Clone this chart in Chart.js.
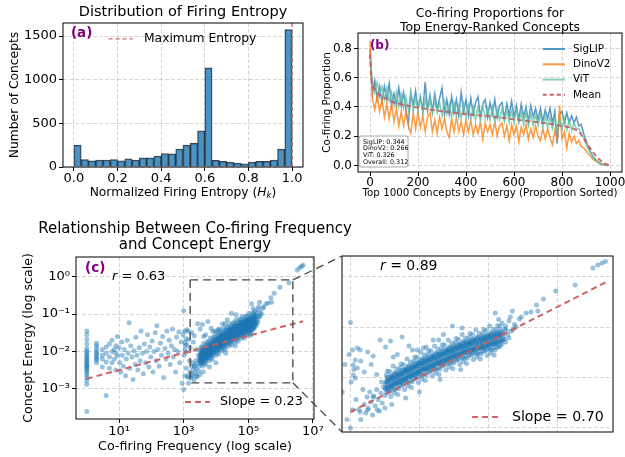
<!DOCTYPE html>
<html>
<head>
<meta charset="utf-8">
<title>Firing entropy and co-firing</title>
<script src="https://cdn.jsdelivr.net/npm/chart.js@4.4.1/dist/chart.umd.min.js"></script>
<style>
  html, body { margin: 0; padding: 0; background: #fff; }
  body { position: relative; width: 625px; height: 457px; overflow: hidden; }
  .panel { position: absolute; }
</style>
</head>
<body>
<div class="panel" style="left:0;top:0;width:330px;height:205px"><canvas id="entropyChart"></canvas></div>
<div class="panel" style="left:300px;top:0;width:345px;height:205px"><canvas id="cofireChart"></canvas></div>
<div class="panel" style="left:330px;top:245px;width:295px;height:200px"><canvas id="zoomChart"></canvas></div>
<div class="panel" style="left:0;top:205px;width:360px;height:252px"><canvas id="energyChart"></canvas></div>
<script>
// ---------- data ----------
// (a) normalized firing entropy, 30 equal bins on [0, 1]
const entropyBinCount = 30;
const entropyCounts = [250, 85, 70, 80, 80, 85, 70, 95, 80, 105, 105, 125, 155, 150, 205,
  250, 270, 415, 1135, 75, 65, 55, 45, 35, 55, 65, 65, 80, 205, 1575];
const entropyXTicks = [0, 0.2, 0.4, 0.6, 0.8, 1.0];
const entropyYTicks = [0, 500, 1000, 1500];
const maxEntropy = 1.0;

// (b) co-firing proportion for the top 1000 concepts, read every 10 ranks
const conceptRanks = Array.from({ length: 100 }, (_, i) => i * 10);
const siglipProp = [0.80, 0.49, 0.58, 0.45, 0.54, 0.43, 0.54, 0.45, 0.56, 0.41,
  0.49, 0.41, 0.53, 0.41, 0.50, 0.38, 0.28, 0.50, 0.41, 0.51,
  0.38, 0.47, 0.37, 0.57, 0.38, 0.48, 0.37, 0.49, 0.38, 0.46,
  0.53, 0.35, 0.45, 0.35, 0.47, 0.36, 0.45, 0.34, 0.50, 0.37,
  0.45, 0.34, 0.46, 0.35, 0.43, 0.47, 0.33, 0.42, 0.45, 0.33,
  0.43, 0.35, 0.45, 0.33, 0.41, 0.43, 0.32, 0.42, 0.34, 0.44,
  0.33, 0.41, 0.31, 0.42, 0.33, 0.40, 0.30, 0.41, 0.33, 0.39,
  0.31, 0.39, 0.30, 0.38, 0.32, 0.39, 0.29, 0.37, 0.15, 0.35,
  0.37, 0.29, 0.36, 0.29, 0.34, 0.29, 0.33, 0.27, 0.28, 0.22,
  0.17, 0.12, 0.09, 0.06, 0.04, 0.025, 0.015, 0.008, 0.003, 0.0];
const dinoProp = [0.85, 0.46, 0.38, 0.48, 0.37, 0.45, 0.33, 0.42, 0.32, 0.42,
  0.30, 0.39, 0.27, 0.37, 0.27, 0.37, 0.27, 0.22, 0.36, 0.25,
  0.36, 0.26, 0.34, 0.23, 0.33, 0.36, 0.23, 0.31, 0.22, 0.33,
  0.25, 0.32, 0.23, 0.19, 0.32, 0.23, 0.33, 0.23, 0.30, 0.21,
  0.31, 0.23, 0.31, 0.21, 0.28, 0.22, 0.30, 0.18, 0.29, 0.23,
  0.28, 0.21, 0.30, 0.20, 0.27, 0.29, 0.20, 0.27, 0.17, 0.28,
  0.21, 0.27, 0.16, 0.26, 0.21, 0.28, 0.18, 0.25, 0.19, 0.27,
  0.20, 0.17, 0.25, 0.18, 0.25, 0.19, 0.14, 0.24, 0.17, 0.41,
  0.18, 0.23, 0.12, 0.22, 0.16, 0.20, 0.15, 0.17, 0.13, 0.12,
  0.10, 0.08, 0.06, 0.04, 0.03, 0.02, 0.01, 0.005, 0.002, 0.0];
const vitProp = [0.72, 0.58, 0.50, 0.57, 0.47, 0.54, 0.45, 0.53, 0.44, 0.50,
  0.41, 0.50, 0.40, 0.49, 0.39, 0.47, 0.38, 0.50, 0.37, 0.46,
  0.38, 0.47, 0.36, 0.45, 0.37, 0.46, 0.35, 0.44, 0.36, 0.43,
  0.34, 0.44, 0.35, 0.42, 0.33, 0.43, 0.34, 0.41, 0.32, 0.42,
  0.33, 0.41, 0.32, 0.40, 0.31, 0.40, 0.31, 0.41, 0.32, 0.39,
  0.31, 0.40, 0.30, 0.38, 0.31, 0.39, 0.30, 0.38, 0.29, 0.37,
  0.29, 0.38, 0.29, 0.36, 0.28, 0.37, 0.27, 0.35, 0.27, 0.35,
  0.27, 0.34, 0.26, 0.34, 0.26, 0.33, 0.25, 0.33, 0.24, 0.32,
  0.25, 0.32, 0.24, 0.31, 0.24, 0.29, 0.25, 0.25, 0.22, 0.19,
  0.15, 0.11, 0.08, 0.05, 0.035, 0.02, 0.01, 0.005, 0.002, 0.0];
const meanRanks = [0, 5, 10, 20, 35, 50, 75, 100, 150, 200, 300, 400, 500, 600, 700, 800, 850, 875, 900, 925, 950, 975, 999];
const meanProp = [0.76, 0.60, 0.55, 0.52, 0.49, 0.47, 0.45, 0.43, 0.41, 0.395, 0.37, 0.35, 0.335, 0.315, 0.295, 0.27, 0.25, 0.22, 0.16, 0.10, 0.05, 0.015, 0.0];
const modelMeans = ['SigLIP: 0.344', 'DinoV2: 0.266', 'ViT: 0.326', 'Overall: 0.312'];
const rankTicks = [0, 200, 400, 600, 800, 1000];
const propTicks = [0, 0.2, 0.4, 0.6, 0.8];

// (c) co-firing frequency vs concept energy, both given as log10
const cofireEnergyLog = [
  // concepts that fire alone or with very few others
  [0, -1.45], [0, -1.55], [0, -1.68], [0, -1.80], [0, -1.92], [0, -1.98], [0, -2.03], [0, -2.08],
  [0, -2.12], [0, -2.17], [0, -2.21], [0, -2.25], [0, -2.29], [0, -2.33], [0, -2.37], [0, -2.40],
  [0, -2.44], [0, -2.48], [0, -2.52], [0, -2.57], [0, -2.63], [0, -2.70], [0, -2.78], [0, -2.88], [0, -3.61],
  [0.30, -1.78], [0.30, -1.85], [0.30, -1.92], [0.30, -1.99], [0.30, -2.04], [0.30, -2.09], [0.30, -2.14],
  [0.30, -2.19], [0.30, -2.23], [0.30, -2.30],
  [0.48, -1.95], [0.48, -2.10], [0.48, -2.20], [0.48, -2.42],
  [0.60, -2.05], [0.60, -2.28], [0.60, -3.18], [0.60, -1.88],
  [0.70, -2.15], [0.70, -1.80], [0.70, -2.45], [0.78, -2.00], [0.78, -2.30], [0.78, -1.70],
  [0.85, -2.20], [0.85, -1.95], [0.90, -2.50], [0.90, -2.05], [0.90, -1.85], [0.95, -2.12], [0.95, -1.60],
  [1.00, -1.90], [1.02, -2.30], [1.05, -2.55], [1.08, -1.75], [1.10, -2.10], [1.13, -2.40], [1.16, -1.95],
  [1.20, -2.65], [1.22, -2.20], [1.25, -1.70], [1.28, -2.05], [1.31, -1.23], [1.33, -2.45], [1.36, -1.85],
  [1.40, -2.15], [1.43, -2.75], [1.46, -1.98], [1.50, -2.35], [1.52, -1.62], [1.55, -2.10], [1.58, -2.50],
  [1.62, -1.90], [1.65, -2.25], [1.68, -1.45], [1.72, -2.05], [1.75, -2.60], [1.78, -1.80], [1.82, -2.30],
  [1.85, -2.00], [1.88, -1.55], [1.92, -2.42], [1.95, -1.88], [1.98, -2.15], [2.02, -1.72], [2.05, -2.55],
  [2.08, -2.00], [2.12, -1.50], [2.15, -2.25], [2.17, -1.31], [2.20, -1.95], [2.24, -2.40], [2.28, -1.78],
  [2.31, -2.10], [2.35, -1.60], [2.38, -2.70], [2.42, -1.92], [2.45, -2.20], [2.48, -1.45], [2.52, -2.05],
  [2.55, -1.70], [2.58, -2.35], [2.62, -1.85], [2.65, -1.40], [2.68, -2.15], [2.72, -1.95], [2.75, -2.55],
  [2.78, -1.62], [2.82, -2.00], [2.85, -1.48], [2.88, -2.30], [2.92, -1.75], [2.95, -2.85], [2.98, -1.55],
  [3.00, -0.91], [3.01, -2.10], [3.00, -3.02], [3.05, -1.85], [3.08, -2.45], [3.10, -1.42], [3.12, -2.65],
  [3.15, -1.68], [3.18, -2.25],
  // sparse points above and below the main band
  [3.03, -1.46], [3.07, -1.66], [3.04, -1.76], [3.10, -1.82], [3.04, -1.96], [3.07, -2.02], [3.14, -1.46],
  [3.25, -1.50], [3.33, -1.58], [3.43, -1.26], [3.58, -1.28], [3.51, -1.40], [3.62, -1.60], [3.75, -1.20],
  [3.90, -1.46], [3.97, -1.46], [4.06, -1.42], [4.10, -1.40], [4.20, -1.26], [4.28, -1.26], [4.48, -0.98],
  [3.30, -1.75], [3.20, -1.90], [3.38, -1.95], [3.68, -1.55], [3.85, -1.38], [4.35, -1.15], [4.62, -1.02],
  [3.03, -2.66], [3.14, -2.70], [3.25, -2.66], [3.39, -2.66], [3.33, -2.40], [3.60, -2.55], [3.80, -2.42],
  [4.00, -2.30], [4.30, -2.05], [4.60, -1.85], [3.15, -2.85], [3.50, -2.62],
  // lower end of the dense band
  [3.20, -2.55], [3.22, -2.72], [3.24, -2.40], [3.26, -2.62], [3.28, -2.30], [3.30, -2.50], [3.32, -2.76],
  [3.34, -2.38], [3.36, -2.58], [3.38, -2.25], [3.40, -2.45], [3.42, -2.68], [3.44, -2.32], [3.46, -2.52],
  [3.48, -2.20], [3.45, -2.10],
  // dense band
  [3.50, -2.37], [3.53, -2.25], [3.51, -2.15], [3.54, -2.06], [3.52, -1.96], [3.535, -1.88],
  [3.55, -2.30], [3.58, -2.18], [3.56, -2.08], [3.59, -1.99], [3.57, -1.89], [3.585, -2.39],
  [3.60, -2.22], [3.63, -2.11], [3.61, -2.01], [3.64, -1.92], [3.62, -1.78], [3.635, -2.32],
  [3.65, -2.25], [3.68, -2.13], [3.66, -2.03], [3.69, -1.94], [3.67, -1.84], [3.685, -2.35],
  [3.70, -2.23], [3.73, -2.11], [3.71, -2.01], [3.74, -1.92], [3.72, -1.82], [3.735, -1.74],
  [3.75, -2.16], [3.78, -2.04], [3.76, -1.94], [3.79, -1.85], [3.77, -1.75], [3.785, -2.25],
  [3.80, -2.08], [3.83, -1.97], [3.81, -1.87], [3.84, -1.78], [3.82, -1.64], [3.835, -2.18],
  [3.85, -2.11], [3.88, -1.99], [3.86, -1.89], [3.89, -1.80], [3.87, -1.70], [3.885, -2.21],
  [3.90, -2.09], [3.93, -1.97], [3.91, -1.87], [3.94, -1.78], [3.92, -1.68], [3.935, -1.60],
  [3.95, -2.02], [3.98, -1.90], [3.96, -1.80], [3.99, -1.71], [3.97, -1.61], [3.985, -2.11],
  [4.00, -1.94], [4.03, -1.83], [4.01, -1.73], [4.04, -1.64], [4.02, -1.50], [4.035, -2.04],
  [4.05, -1.97], [4.08, -1.85], [4.06, -1.75], [4.09, -1.66], [4.07, -1.56], [4.085, -2.07],
  [4.10, -1.96], [4.13, -1.84], [4.11, -1.74], [4.14, -1.65], [4.12, -1.55], [4.135, -1.47],
  [4.15, -1.89], [4.18, -1.77], [4.16, -1.67], [4.19, -1.58], [4.17, -1.48], [4.185, -1.98],
  [4.20, -1.82], [4.23, -1.71], [4.21, -1.61], [4.24, -1.52], [4.22, -1.38], [4.235, -1.92],
  [4.25, -1.85], [4.28, -1.73], [4.26, -1.63], [4.29, -1.54], [4.27, -1.44], [4.285, -1.95],
  [4.30, -1.84], [4.33, -1.72], [4.31, -1.62], [4.34, -1.53], [4.32, -1.43], [4.335, -1.35],
  [4.35, -1.77], [4.38, -1.65], [4.36, -1.55], [4.39, -1.46], [4.37, -1.36], [4.385, -1.86],
  [4.40, -1.70], [4.43, -1.59], [4.41, -1.49], [4.44, -1.40], [4.42, -1.26], [4.435, -1.80],
  [4.45, -1.73], [4.48, -1.61], [4.46, -1.51], [4.49, -1.42], [4.47, -1.32], [4.485, -1.83],
  [4.50, -1.72], [4.53, -1.60], [4.51, -1.50], [4.54, -1.41], [4.52, -1.31], [4.535, -1.23],
  [4.55, -1.66], [4.58, -1.54], [4.56, -1.44], [4.59, -1.35], [4.57, -1.25], [4.585, -1.75],
  [4.60, -1.59], [4.63, -1.48], [4.61, -1.38], [4.64, -1.29], [4.62, -1.15], [4.635, -1.69],
  [4.65, -1.63], [4.68, -1.51], [4.66, -1.41], [4.69, -1.32], [4.67, -1.22], [4.685, -1.73],
  [4.70, -1.62], [4.73, -1.50], [4.71, -1.40], [4.74, -1.31], [4.72, -1.21], [4.735, -1.13],
  [4.75, -1.56], [4.78, -1.44], [4.76, -1.34], [4.79, -1.25], [4.77, -1.15], [4.785, -1.65],
  [4.80, -1.50], [4.83, -1.39], [4.81, -1.29], [4.84, -1.20], [4.82, -1.06], [4.835, -1.60],
  [4.85, -1.54], [4.88, -1.42], [4.86, -1.32], [4.89, -1.23], [4.87, -1.13], [4.885, -1.64],
  [4.90, -1.54], [4.93, -1.42], [4.91, -1.32], [4.94, -1.23], [4.92, -1.13], [4.935, -1.05],
  [4.95, -1.48], [4.98, -1.36], [4.96, -1.26], [4.99, -1.17], [4.97, -1.07], [4.985, -1.57],
  [5.00, -1.42], [5.03, -1.31], [5.01, -1.21], [5.04, -1.12], [5.02, -0.98], [5.035, -1.52],
  [5.05, -1.46], [5.08, -1.34], [5.06, -1.24], [5.09, -1.15], [5.07, -1.05], [5.085, -1.56],
  [5.10, -1.46], [5.13, -1.34], [5.11, -1.24], [5.14, -1.15], [5.12, -1.05], [5.135, -0.97],
  [5.15, -1.40], [5.18, -1.28], [5.16, -1.18], [5.19, -1.09], [5.17, -0.99],
  [5.20, -1.34], [5.23, -1.23], [5.21, -1.13], [5.24, -1.04],
  [5.25, -1.30], [5.28, -1.15], [5.26, -1.06], [5.30, -1.22], [5.33, -1.08],
  // second pass through the dense band
  [3.525, -2.31], [3.545, -2.20], [3.515, -2.10], [3.535, -2.01], [3.505, -2.24],
  [3.575, -2.28], [3.595, -2.17], [3.565, -2.07], [3.585, -1.98], [3.555, -2.21],
  [3.625, -2.24], [3.645, -2.13], [3.615, -2.03], [3.635, -1.94], [3.605, -2.17],
  [3.675, -2.21], [3.695, -2.10], [3.665, -2.00], [3.685, -1.91], [3.655, -2.14],
  [3.725, -2.17], [3.745, -2.06], [3.715, -1.96], [3.735, -1.87], [3.705, -2.10],
  [3.775, -2.14], [3.795, -2.03], [3.765, -1.93], [3.785, -1.84], [3.755, -2.07],
  [3.825, -2.10], [3.845, -1.99], [3.815, -1.89], [3.835, -1.80], [3.805, -2.03],
  [3.875, -2.07], [3.895, -1.96], [3.865, -1.86], [3.885, -1.77], [3.855, -2.00],
  [3.925, -2.03], [3.945, -1.92], [3.915, -1.82], [3.935, -1.73], [3.905, -1.96],
  [3.975, -2.00], [3.995, -1.89], [3.965, -1.79], [3.985, -1.70], [3.955, -1.93],
  [4.025, -1.96], [4.045, -1.85], [4.015, -1.75], [4.035, -1.66], [4.005, -1.89],
  [4.075, -1.93], [4.095, -1.82], [4.065, -1.72], [4.085, -1.63], [4.055, -1.86],
  [4.125, -1.90], [4.145, -1.79], [4.115, -1.69], [4.135, -1.60], [4.105, -1.83],
  [4.175, -1.87], [4.195, -1.76], [4.165, -1.66], [4.185, -1.57], [4.155, -1.80],
  [4.225, -1.84], [4.245, -1.73], [4.215, -1.63], [4.235, -1.54], [4.205, -1.77],
  [4.275, -1.81], [4.295, -1.70], [4.265, -1.60], [4.285, -1.51], [4.255, -1.74],
  [4.325, -1.78], [4.345, -1.67], [4.315, -1.57], [4.335, -1.48], [4.305, -1.71],
  [4.375, -1.75], [4.395, -1.64], [4.365, -1.54], [4.385, -1.45], [4.355, -1.68],
  [4.425, -1.72], [4.445, -1.61], [4.415, -1.51], [4.435, -1.42], [4.405, -1.65],
  [4.475, -1.69], [4.495, -1.58], [4.465, -1.48], [4.485, -1.39], [4.455, -1.62],
  [4.525, -1.66], [4.545, -1.55], [4.515, -1.45], [4.535, -1.36], [4.505, -1.59],
  [4.575, -1.64], [4.595, -1.53], [4.565, -1.43], [4.585, -1.34], [4.555, -1.57],
  [4.625, -1.61], [4.645, -1.50], [4.615, -1.40], [4.635, -1.31], [4.605, -1.54],
  [4.675, -1.59], [4.695, -1.48], [4.665, -1.38], [4.685, -1.29], [4.655, -1.52],
  [4.725, -1.56], [4.745, -1.45], [4.715, -1.35], [4.735, -1.26], [4.705, -1.49],
  [4.775, -1.54], [4.795, -1.43], [4.765, -1.33], [4.785, -1.24], [4.755, -1.47],
  [4.825, -1.52], [4.845, -1.41], [4.815, -1.31], [4.835, -1.22], [4.805, -1.45],
  [4.875, -1.50], [4.895, -1.39], [4.865, -1.29], [4.885, -1.20], [4.855, -1.43],
  [4.925, -1.48], [4.945, -1.37], [4.915, -1.27], [4.935, -1.18], [4.905, -1.41],
  [4.975, -1.46], [4.995, -1.35], [4.965, -1.25], [4.985, -1.16], [4.955, -1.39],
  [5.025, -1.44], [5.045, -1.33], [5.015, -1.23], [5.035, -1.14], [5.005, -1.37],
  [5.075, -1.42], [5.095, -1.31], [5.065, -1.21], [5.085, -1.12], [5.055, -1.35],
  [5.125, -1.40], [5.145, -1.29], [5.115, -1.19], [5.135, -1.10], [5.105, -1.33],
  [5.175, -1.38], [5.195, -1.27], [5.165, -1.17], [5.185, -1.08],
  [5.225, -1.25], [5.215, -1.15],
  // core of the dense band
  [3.512, -2.23], [3.537, -2.16], [3.525, -2.09], [3.543, -2.04],
  [3.562, -2.20], [3.587, -2.13], [3.575, -2.06], [3.593, -2.01],
  [3.612, -2.16], [3.637, -2.09], [3.625, -2.02], [3.643, -1.97],
  [3.662, -2.13], [3.687, -2.06], [3.675, -1.99], [3.693, -1.94],
  [3.712, -2.09], [3.737, -2.02], [3.725, -1.95], [3.743, -1.90],
  [3.762, -2.06], [3.787, -1.99], [3.775, -1.92], [3.793, -1.87],
  [3.812, -2.02], [3.837, -1.95], [3.825, -1.88], [3.843, -1.83],
  [3.862, -1.99], [3.887, -1.92], [3.875, -1.85], [3.893, -1.80],
  [3.912, -1.95], [3.937, -1.88], [3.925, -1.81], [3.943, -1.76],
  [3.962, -1.92], [3.987, -1.85], [3.975, -1.78], [3.993, -1.73],
  [4.012, -1.88], [4.037, -1.81], [4.025, -1.74], [4.043, -1.69],
  [4.062, -1.85], [4.087, -1.78], [4.075, -1.71], [4.093, -1.66],
  [4.112, -1.82], [4.137, -1.75], [4.125, -1.68], [4.143, -1.63],
  [4.162, -1.79], [4.187, -1.72], [4.175, -1.65], [4.193, -1.60],
  [4.212, -1.76], [4.237, -1.69], [4.225, -1.62], [4.243, -1.57],
  [4.262, -1.73], [4.287, -1.66], [4.275, -1.59], [4.293, -1.54],
  [4.312, -1.70], [4.337, -1.63], [4.325, -1.56], [4.343, -1.51],
  [4.362, -1.67], [4.387, -1.60], [4.375, -1.53], [4.393, -1.48],
  [4.412, -1.64], [4.437, -1.57], [4.425, -1.50], [4.443, -1.45],
  [4.462, -1.61], [4.487, -1.54], [4.475, -1.47], [4.493, -1.42],
  [4.512, -1.58], [4.537, -1.51], [4.525, -1.44], [4.543, -1.39],
  [4.562, -1.56], [4.587, -1.49], [4.575, -1.42], [4.593, -1.37],
  [4.612, -1.53], [4.637, -1.46], [4.625, -1.39], [4.643, -1.34],
  [4.662, -1.51], [4.687, -1.44], [4.675, -1.37], [4.693, -1.32],
  [4.712, -1.48], [4.737, -1.41], [4.725, -1.34], [4.743, -1.29],
  [4.762, -1.46], [4.787, -1.39], [4.775, -1.32], [4.793, -1.27],
  [4.812, -1.44], [4.837, -1.37], [4.825, -1.30], [4.843, -1.25],
  [4.862, -1.42], [4.887, -1.35], [4.875, -1.28], [4.893, -1.23],
  [4.912, -1.40], [4.937, -1.33], [4.925, -1.26], [4.943, -1.21],
  [4.962, -1.38], [4.987, -1.31], [4.975, -1.24], [4.993, -1.19],
  [5.012, -1.36], [5.037, -1.29], [5.025, -1.22], [5.043, -1.17],
  [5.062, -1.34], [5.087, -1.27], [5.075, -1.20], [5.093, -1.15],
  [5.112, -1.32], [5.137, -1.25], [5.125, -1.18], [5.143, -1.13],
  [5.162, -1.30], [5.187, -1.23], [5.175, -1.16],
  // high-frequency, high-energy tail
  [5.10, -0.72], [5.15, -0.85], [5.20, -0.92], [5.25, -0.98], [5.30, -0.88], [5.32, -0.80], [5.35, -0.68],
  [5.36, -1.05], [5.38, -0.95], [5.40, -1.00], [5.45, -0.84], [5.48, -0.80], [5.55, -0.72], [5.62, -0.70],
  [5.70, -0.56], [5.72, -0.68], [5.80, -0.44], [5.98, -0.28], [6.26, -0.16],
  [6.52, 0.18], [6.59, 0.24], [6.65, 0.28], [6.70, 0.31]
];
const fitAll = { slope: 0.23, intercept: -2.73 };
const fitZoom = { slope: 0.70, intercept: -4.80 };
const zoomFromLog = 3.0;
const zoomBoxLog = { x0: 3.2, x1: 6.38, y0: -2.84, y1: -0.085 };
const freqTicks = [1e1, 1e3, 1e5, 1e7];
const freqTickLabels = ['10¹', '10³', '10⁵', '10⁷'];
const energyTicks = [1e-3, 1e-2, 1e-1, 1e0];
const energyTickLabels = ['10⁻³', '10⁻²', '10⁻¹', '10⁰'];
const zoomFreqTicks = [1e3, 1e4, 1e5, 1e6];

// ---------- styling helpers ----------
const FONT = "'DejaVu Sans', sans-serif";
const GRID = 'rgba(176,176,176,0.5)';
const RED = 'rgba(205,92,92,0.95)';
const PURPLE = '#800080';
const BLUE = 'rgba(31,119,180,0.75)';
const ORANGE = 'rgba(255,127,14,0.8)';
const MINT = 'rgba(102,194,165,0.8)';

Chart.defaults.font.family = FONT;
Chart.defaults.color = '#000';

const frame = {
  id: 'frame',
  afterDatasetsDraw(chart) {
    const { ctx, chartArea: a } = chart;
    ctx.save();
    ctx.strokeStyle = '#000';
    ctx.lineWidth = 1;
    ctx.strokeRect(a.left, a.top, a.width, a.height);
    ctx.restore();
  }
};

function put(ctx, str, x, y, font, color, align) {
  ctx.font = font;
  ctx.fillStyle = color || '#000';
  ctx.textAlign = align || 'left';
  ctx.textBaseline = 'middle';
  ctx.fillText(str, x, y);
}

// text made of runs in different fonts (italic symbols, subscripts)
function putRich(ctx, parts, x, y, align) {
  let total = 0;
  parts.forEach(p => { ctx.font = p.font; p.w = ctx.measureText(p.t).width; total += p.w; });
  let cx = align === 'center' ? x - total / 2 : x;
  ctx.fillStyle = '#000';
  ctx.textAlign = 'left';
  ctx.textBaseline = 'middle';
  parts.forEach(p => { ctx.font = p.font; ctx.fillText(p.t, cx, y + (p.dy || 0)); cx += p.w; });
}

function legendLine(ctx, x0, x1, y, color, width, dash) {
  ctx.save();
  ctx.strokeStyle = color;
  ctx.lineWidth = width;
  ctx.setLineDash(dash || []);
  ctx.beginPath();
  ctx.moveTo(x0, y);
  ctx.lineTo(x1, y);
  ctx.stroke();
  ctx.restore();
}

const fixedTicks = values => scale => { scale.ticks = values.map(v => ({ value: v })); };
const gridOpts = { color: GRID, tickColor: '#000', tickLength: 4, tickWidth: 1 };
const borderOpts = { display: false, dash: [4, 2] };
const base = { responsive: true, maintainAspectRatio: false, animation: false, events: [] };

// ---------- (a) entropy histogram ----------
const entropyDecor = {
  id: 'entropyDecor',
  afterDraw(chart) {
    const { ctx, chartArea: a } = chart;
    ctx.save();
    put(ctx, '(a)', a.left + 0.033 * a.width, a.top + 0.076 * a.height, `bold 13.5px ${FONT}`, PURPLE);
    const ly = a.top + 0.11 * a.height;
    legendLine(ctx, a.left + 0.19 * a.width, a.left + 0.29 * a.width, ly, RED, 1.3, [4, 3]);
    put(ctx, 'Maximum Entropy', a.left + 0.3375 * a.width, ly, `12.3px ${FONT}`);
    putRich(ctx, [
      { t: 'Normalized Firing Entropy (', font: `12.3px ${FONT}` },
      { t: 'H', font: `italic 12.3px ${FONT}` },
      { t: 'k', font: `italic 8.6px ${FONT}`, dy: 3 },
      { t: ')', font: `12.3px ${FONT}` }
    ], (a.left + a.right) / 2, a.bottom + 26, 'center');
    ctx.restore();
  }
};

new Chart(document.getElementById('entropyChart'), {
  type: 'bar',
  data: {
    datasets: [
      {
        type: 'line',
        label: 'Maximum Entropy',
        data: [{ x: maxEntropy, y: 0 }, { x: maxEntropy, y: 2000 }],
        borderColor: RED, borderWidth: 1.3, borderDash: [4, 3], pointRadius: 0, clip: 0
      },
      {
        type: 'bar',
        label: 'Concepts',
        data: entropyCounts.map((c, i) => ({ x: (i + 0.5) / entropyBinCount, y: c })),
        backgroundColor: 'rgba(31,119,180,0.8)',
        borderColor: 'rgba(0,0,0,0.75)',
        borderWidth: 1,
        barPercentage: 1,
        categoryPercentage: 1
      }
    ]
  },
  options: {
    ...base,
    layout: { padding: { left: 0, top: 0, right: 27, bottom: 0 } },
    plugins: {
      legend: { display: false },
      tooltip: { enabled: false },
      title: {
        display: true, text: 'Distribution of Firing Entropy', fullSize: false,
        font: { size: 14.5, weight: 'normal' }, padding: { top: 4, bottom: 1.6 }
      }
    },
    scales: {
      x: {
        type: 'linear', min: -0.05, max: 1.05, offset: false,
        afterBuildTicks: fixedTicks(entropyXTicks),
        afterFit: s => { s.height = 38; },
        ticks: { font: { size: 13 }, padding: 0, autoSkip: false, maxRotation: 0, callback: v => v.toFixed(1) },
        grid: { ...gridOpts, offset: false },
        border: borderOpts
      },
      y: {
        min: 0, max: 1650,
        afterBuildTicks: fixedTicks(entropyYTicks),
        afterFit: s => { s.width = 63; },
        ticks: { font: { size: 13 }, padding: 2, callback: v => String(v) },
        grid: gridOpts,
        border: borderOpts,
        title: { display: true, text: 'Number of Concepts', font: { size: 12.3 }, padding: { top: 7.6, bottom: 0 } }
      }
    }
  },
  plugins: [frame, entropyDecor]
});

// ---------- (b) co-firing proportions ----------
const cofireDecor = {
  id: 'cofireDecor',
  afterDraw(chart) {
    const { ctx, chartArea: a } = chart;
    ctx.save();
    put(ctx, '(b)', a.left + 0.045 * a.width, a.top + 0.094 * a.height, `bold 12px ${FONT}`, PURPLE);
    const items = [
      ['SigLIP', BLUE, []], ['DinoV2', ORANGE, []], ['ViT', MINT, []], ['Mean', RED, [4, 3]]
    ];
    items.forEach(([name, color, dash], i) => {
      const y = a.top + (0.115 + 0.110 * i) * a.height;
      legendLine(ctx, a.left + 0.70 * a.width, a.left + 0.784 * a.width, y, color, 2, dash);
      put(ctx, name, a.left + 0.814 * a.width, y, `10.4px ${FONT}`);
    });
    // summary box in the lower-left corner
    const bx = a.left + 1, bw = 49, bh = 31, by = a.bottom - 5 - bh;
    ctx.fillStyle = 'rgba(255,255,255,0.85)';
    ctx.strokeStyle = 'rgba(120,120,120,0.8)';
    ctx.lineWidth = 0.8;
    ctx.beginPath();
    ctx.roundRect(bx, by, bw, bh, 2);
    ctx.fill();
    ctx.stroke();
    modelMeans.forEach((s, i) => put(ctx, s, bx + 4, by + 6 + i * 6.8, `6.4px ${FONT}`));
    ctx.restore();
  }
};

const lineSeries = (label, values, color) => ({
  label,
  data: values.map((v, i) => ({ x: conceptRanks[i], y: v })),
  borderColor: color, borderWidth: 1.5, pointRadius: 0, tension: 0, fill: false
});

new Chart(document.getElementById('cofireChart'), {
  type: 'line',
  data: {
    datasets: [
      {
        label: 'Mean',
        data: meanProp.map((v, i) => ({ x: meanRanks[i], y: v })),
        borderColor: RED, borderWidth: 1.8, borderDash: [5, 3], pointRadius: 0, tension: 0.3, fill: false
      },
      lineSeries('ViT', vitProp, MINT),
      lineSeries('DinoV2', dinoProp, ORANGE),
      lineSeries('SigLIP', siglipProp, BLUE)
    ]
  },
  options: {
    ...base,
    layout: { padding: { left: 0, top: 0, right: 23, bottom: 0 } },
    plugins: {
      legend: { display: false },
      tooltip: { enabled: false },
      title: {
        display: true, text: ['Co-firing Proportions for', 'Top Energy-Ranked Concepts'], fullSize: false,
        font: { size: 12.4, weight: 'normal', lineHeight: 1.13 }, padding: { top: 7, bottom: -2 }
      }
    },
    scales: {
      x: {
        type: 'linear', min: -50, max: 1050,
        afterBuildTicks: fixedTicks(rankTicks),
        afterFit: s => { s.height = 33; },
        ticks: { font: { size: 12 }, padding: 0, autoSkip: false, maxRotation: 0, callback: v => String(v) },
        grid: gridOpts,
        border: borderOpts,
        title: {
          display: true, text: 'Top 1000 Concepts by Energy (Proportion Sorted)',
          font: { size: 10.3 }, padding: { top: 0, bottom: 5.8 }
        }
      },
      y: {
        min: -0.045, max: 0.905,
        afterBuildTicks: fixedTicks(propTicks),
        afterFit: s => { s.width = 58; },
        ticks: { font: { size: 12 }, padding: 2, callback: v => v.toFixed(1) },
        grid: gridOpts,
        border: borderOpts,
        title: { display: true, text: 'Co-firing Proportion', font: { size: 10.3 }, padding: { top: 20.8, bottom: 0 } }
      }
    }
  },
  plugins: [frame, cofireDecor]
});

// ---------- (c) energy vs co-firing frequency ----------
const scatterPoints = cofireEnergyLog.map(([lx, ly]) => ({ x: 10 ** lx, y: 10 ** ly }));
const allLx = cofireEnergyLog.map(p => p[0]);
const zoomLx = allLx.filter(v => v >= zoomFromLog);
const fitLine = (fit, lxs) => [Math.min(...lxs), Math.max(...lxs)]
  .map(lx => ({ x: 10 ** lx, y: 10 ** (fit.intercept + fit.slope * lx) }));

const scatterSet = {
  label: 'concepts',
  data: scatterPoints,
  backgroundColor: 'rgba(31,119,180,0.45)',
  borderWidth: 0,
  pointRadius: 2.5,
  clip: 0
};

function slopeLegend(ctx, a, fx, fy, tx, label, size) {
  const y = a.top + fy * a.height;
  legendLine(ctx, a.left + fx[0] * a.width, a.left + fx[1] * a.width, y, RED, 2, [6, 4]);
  put(ctx, label, a.left + tx * a.width, y, `${size}px ${FONT}`);
}

const zoomDecor = {
  id: 'zoomDecor',
  afterDraw(chart) {
    const { ctx, chartArea: a } = chart;
    ctx.save();
    putRich(ctx, [
      { t: 'r', font: `italic 14px ${FONT}` },
      { t: ' = 0.89', font: `14px ${FONT}` }
    ], a.left + 0.14 * a.width, a.top + 0.057 * a.height);
    slopeLegend(ctx, a, [0.48, 0.583], 0.915, 0.627, 'Slope = 0.70', 14.2);
    ctx.restore();
  }
};

const zoomChart = new Chart(document.getElementById('zoomChart'), {
  type: 'scatter',
  data: {
    datasets: [
      {
        type: 'line', label: 'fit', data: fitLine(fitZoom, zoomLx),
        borderColor: RED, borderWidth: 2, borderDash: [6, 4], pointRadius: 0, clip: 0
      },
      scatterSet
    ]
  },
  options: {
    ...base,
    layout: { padding: { left: 12, top: 11, right: 12, bottom: 13 } },
    plugins: { legend: { display: false }, tooltip: { enabled: false } },
    scales: {
      x: {
        type: 'logarithmic', min: 10 ** 2.877, max: 10 ** 6.81,
        afterBuildTicks: fixedTicks(zoomFreqTicks),
        afterFit: s => { s.height = 0; },
        ticks: { display: false },
        grid: { color: GRID, drawTicks: false },
        border: borderOpts
      },
      y: {
        type: 'logarithmic', min: 10 ** -3.1, max: 10 ** 0.42,
        afterBuildTicks: fixedTicks(energyTicks),
        afterFit: s => { s.width = 0; },
        ticks: { display: false },
        grid: { color: GRID, drawTicks: false },
        border: borderOpts
      }
    }
  },
  plugins: [frame, zoomDecor]
});

const energyDecor = {
  id: 'energyDecor',
  afterDraw(chart) {
    const { ctx, chartArea: a, scales: { x, y } } = chart;
    ctx.save();
    const cx = (a.left + a.right) / 2;
    put(ctx, 'Relationship Between Co-firing Frequency', cx, a.top - 28, `15px ${FONT}`, '#000', 'center');
    put(ctx, 'and Concept Energy', cx, a.top - 12, `15px ${FONT}`, '#000', 'center');
    put(ctx, '(c)', a.left + 0.038 * a.width, a.top + 0.074 * a.height, `bold 13.5px ${FONT}`, PURPLE);
    putRich(ctx, [
      { t: 'r', font: `italic 13px ${FONT}` },
      { t: ' = 0.63', font: `13px ${FONT}` }
    ], a.left + 0.151 * a.width, a.top + 0.123 * a.height);
    slopeLegend(ctx, a, [0.458, 0.563], 0.895, 0.605, 'Slope = 0.23', 12.8);

    // zoom region and its links to the inset
    const bx0 = x.getPixelForValue(10 ** zoomBoxLog.x0), bx1 = x.getPixelForValue(10 ** zoomBoxLog.x1);
    const byLo = y.getPixelForValue(10 ** zoomBoxLog.y0), byHi = y.getPixelForValue(10 ** zoomBoxLog.y1);
    const here = chart.canvas.getBoundingClientRect();
    const there = zoomChart.canvas.getBoundingClientRect();
    const za = zoomChart.chartArea;
    const ix = there.left - here.left + za.left;
    const iyTop = there.top - here.top + za.top;
    const iyBot = there.top - here.top + za.bottom;
    ctx.strokeStyle = '#444';
    ctx.lineWidth = 1.3;
    ctx.setLineDash([8, 5]);
    ctx.strokeRect(bx0, byHi, bx1 - bx0, byLo - byHi);
    ctx.beginPath();
    ctx.moveTo(bx1, byHi); ctx.lineTo(ix, iyTop);
    ctx.moveTo(bx1, byLo); ctx.lineTo(ix, iyBot);
    ctx.stroke();
    ctx.restore();
  }
};

new Chart(document.getElementById('energyChart'), {
  type: 'scatter',
  data: {
    datasets: [
      {
        type: 'line', label: 'fit', data: fitLine(fitAll, allLx),
        borderColor: RED, borderWidth: 2, borderDash: [6, 4], pointRadius: 0, clip: 0
      },
      scatterSet
    ]
  },
  options: {
    ...base,
    layout: { padding: { left: 0, top: 52, right: 46, bottom: 0 } },
    plugins: { legend: { display: false }, tooltip: { enabled: false } },
    scales: {
      x: {
        type: 'logarithmic', min: 10 ** -0.335, max: 10 ** 7.035,
        afterBuildTicks: fixedTicks(freqTicks),
        afterFit: s => { s.height = 38; },
        ticks: { font: { size: 13 }, padding: 1, autoSkip: false, maxRotation: 0, callback: (v, i) => freqTickLabels[i] },
        grid: gridOpts,
        border: borderOpts,
        title: { display: true, text: 'Co-firing Frequency (log scale)', font: { size: 12.7 }, padding: { top: 0, bottom: 2.4 } }
      },
      y: {
        type: 'logarithmic', min: 10 ** -3.81, max: 10 ** 0.53,
        afterBuildTicks: fixedTicks(energyTicks),
        afterFit: s => { s.width = 76; },
        ticks: { font: { size: 13 }, padding: 2, autoSkip: false, callback: (v, i) => energyTickLabels[i] },
        grid: gridOpts,
        border: borderOpts,
        title: { display: true, text: 'Concept Energy (log scale)', font: { size: 12.6 }, padding: { top: 21.4, bottom: 0 } }
      }
    }
  },
  plugins: [frame, energyDecor]
});
</script>
</body>
</html>
